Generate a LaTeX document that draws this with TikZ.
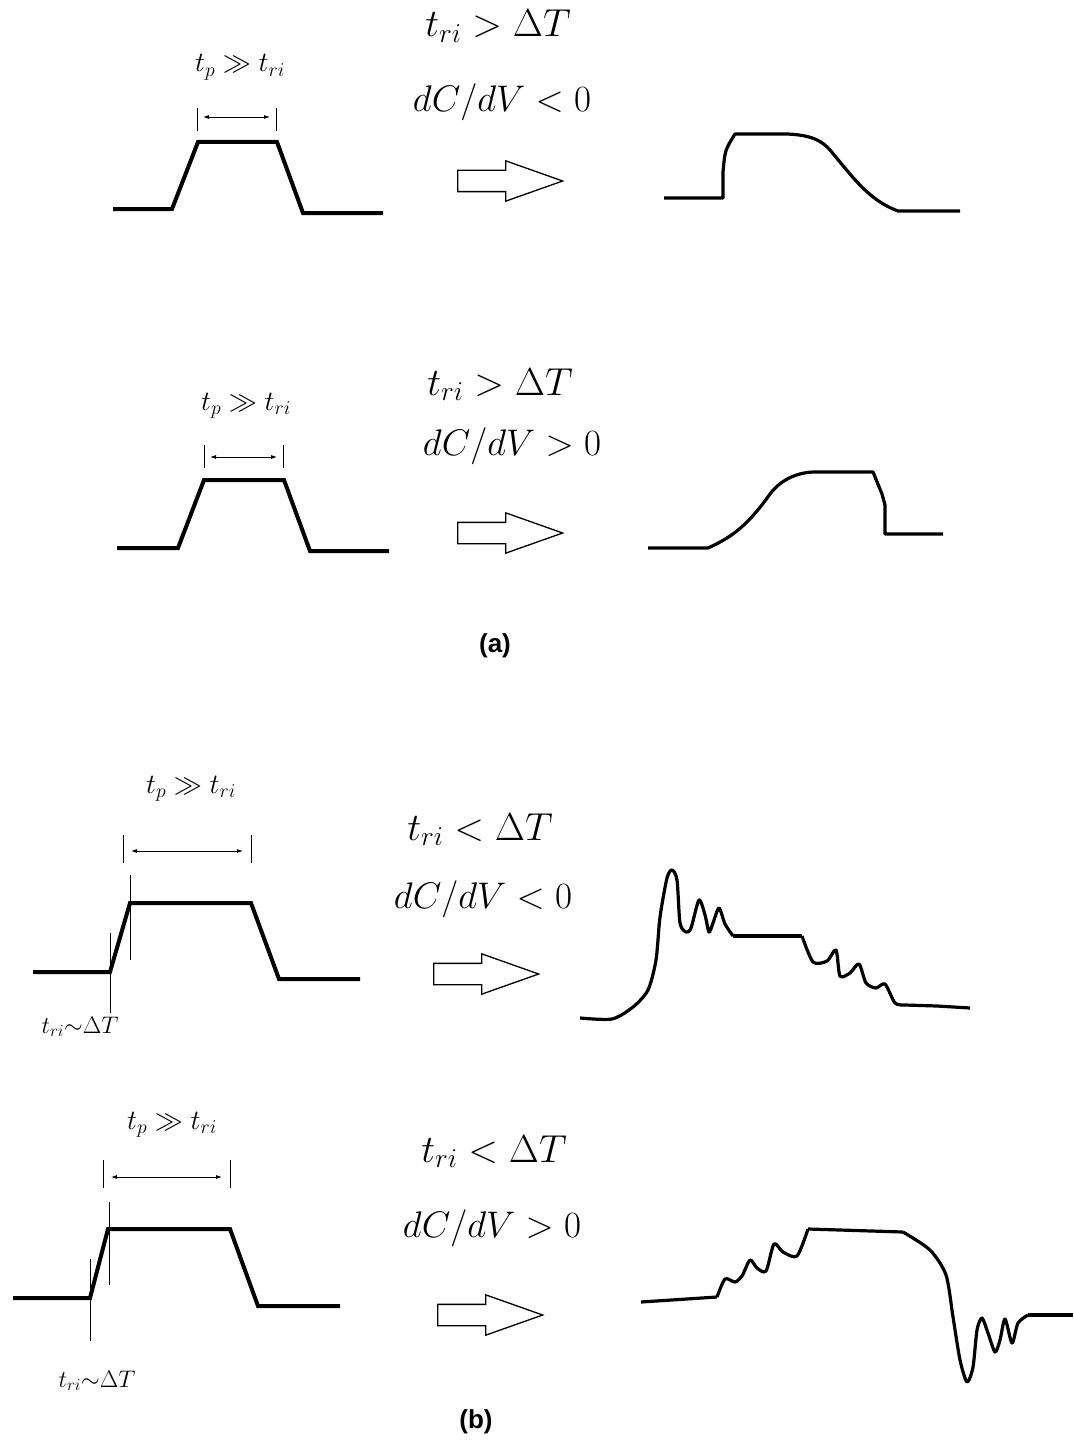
\RequirePackage{fix-cm}
\documentclass[tikz,border=0pt]{standalone}
\usepackage{fontspec}
\newfontfamily\capfont{Liberation Sans}
\usetikzlibrary{arrows.meta,positioning,shapes.arrows}

\begin{document}
\begin{tikzpicture}[
  x=1pt, y=-1pt,
  pulse/.style={line width=4pt, line join=miter},
  resp/.style={line width=3.2pt, line join=round},
  tick/.style={line width=0.8pt},
  span/.style={{Latex[length=6pt,width=4pt]}-{Latex[length=6pt,width=4pt]}, line width=0.8pt},
  cond/.style={font=\fontsize{39}{44}\selectfont, inner sep=0pt, anchor=base},
  slope/.style={font=\fontsize{37}{42}\selectfont, inner sep=0pt, anchor=base},
  width/.style={font=\fontsize{28}{32}\selectfont, inner sep=0pt, anchor=base},
  rise/.style={font=\fontsize{24}{28}\selectfont, inner sep=0pt, anchor=base},
  hollow/.style={single arrow, draw, line width=1.3pt, inner xsep=0pt, inner ysep=10pt,
    minimum height=105pt, single arrow head extend=9.5pt, single arrow tip angle=39,
    anchor=tail},
  caption/.style={font=\capfont\bfseries\fontsize{26}{30}\selectfont, inner sep=0pt}
]
\useasboundingbox (0,0) rectangle (1073,1450);

% ---- (a), first row
\node[width] (w1) at (240,72) {$t_p \gg t_{ri}$};
\node[cond] (c1) at (498,37) {$t_{ri} > \Delta T$};
\node[slope, below=75pt of c1.base, anchor=base, xshift=4pt] (d1) {$dC/dV < 0$};
\node[hollow] (h1) at (457,181) {};
\draw[pulse] (113,209) -- (172,209) -- (198,142) -- (277,142) -- (303,213) -- (383,213);
\coordinate (l1) at (197,117); \coordinate (r1) at (276,117);
\draw[tick] (197,108) -- (197,131);
\draw[tick] (276,108) -- (276,131);
\draw[span] ([xshift=6pt]l1) -- ([xshift=-6pt]r1);
\draw[resp] (664,198) -- (723,198) -- (723,172) .. controls (725,150) .. (735,134)
  -- (787,134) .. controls (812,135) and (822,141) .. (830,150)
  .. controls (852,176) and (868,200) .. (898,211) -- (960,211);

% ---- (a), second row
\node[width] (w2) at (246,410) {$t_p \gg t_{ri}$};
\node[cond] (c2) at (500,395) {$t_{ri} > \Delta T$};
\node[slope, below=60pt of c2.base, anchor=base, xshift=12pt] (d2) {$dC/dV > 0$};
\node[hollow] (h2) at (457,533) {};
\draw[pulse] (117,548) -- (178,548) -- (204,480) -- (284,480) -- (310,551) -- (389,551);
\coordinate (l2) at (204,457); \coordinate (r2) at (283,457);
\draw[tick] (204,445) -- (204,468);
\draw[tick] (283,445) -- (283,468);
\draw[span] ([xshift=6pt]l2) -- ([xshift=-6pt]r2);
\draw[resp] (648,548) -- (708,548) .. controls (735,536) and (750,522) .. (770,494)
  .. controls (782,478) and (800,472) .. (815,472) -- (873,472)
  -- (882,494) -- (885,505) -- (885,534) -- (943,534);

\node[caption] (capa) at (495,646) {(a)};

% ---- (b), first row
\node[width] (w3) at (191,793) {$t_p \gg t_{ri}$};
\node[cond] (c3) at (480,840) {$t_{ri} < \Delta T$};
\node[slope, below=68pt of c3.base, anchor=base, xshift=3pt] (d3) {$dC/dV < 0$};
\node[hollow] (h3) at (433,974) {};
\node[rise] (e3) at (80,1033) {$t_{ri}{\sim}\Delta T$};
\draw[pulse] (33,972) -- (110,972) -- (130,903) -- (251,903) -- (279,979) -- (360,979);
\coordinate (l3) at (123,851); \coordinate (r3) at (251,851);
\draw[tick] (123,835) -- (123,863);
\draw[tick] (251,835) -- (251,863);
\draw[tick] (130,875) -- (130,960);
\draw[tick] (110,933) -- (110,1013);
\draw[span] ([xshift=8pt]l3) -- ([xshift=-8pt]r3);
\draw[resp] plot[smooth, tension=0.45] coordinates {
  (580,1018) (612,1019) (633,1007) (648,990) (656,960) (660,917) (667,878) (672,870)
  (677,880) (680,923) (686,932) (691,928) (699,900) (705,915) (709,932) (713,923)
  (719,908) (725,924) (733,936)};
\draw[resp] (733,936) -- (802,936);
\draw[resp] plot[smooth, tension=0.45] coordinates {
  (802,936) (813,962) (827,961) (836,950) (840,976) (850,973) (859,964) (866,983)
  (876,988) (885,984) (895,1003) (905,1005)};
\draw[resp] (905,1005) -- (937,1006) -- (970,1008);

% ---- (b), second row
\node[width] (w4) at (172,1129) {$t_p \gg t_{ri}$};
\node[cond] (c4) at (494,1162) {$t_{ri} < \Delta T$};
\node[slope, below=75pt of c4.base, anchor=base, xshift=-2pt] (d4) {$dC/dV > 0$};
\node[hollow] (h4) at (437,1315) {};
\node[rise] (e4) at (97,1387) {$t_{ri}{\sim}\Delta T$};
\draw[pulse] (13,1298) -- (90,1298) -- (108,1229) -- (230,1229) -- (258,1306) -- (340,1306);
\coordinate (l4) at (103,1177); \coordinate (r4) at (230,1177);
\draw[tick] (103,1160) -- (103,1188);
\draw[tick] (230,1160) -- (230,1188);
\draw[tick] (109,1202) -- (109,1285);
\draw[tick] (90,1259) -- (90,1341);
\draw[span] ([xshift=8pt]l4) -- ([xshift=-8pt]r4);
\draw[resp] (641,1302) -- (717,1297);
\draw[resp] plot[smooth, tension=0.45] coordinates {
  (717,1297) (725,1279) (735,1282) (742,1276) (750,1260) (757,1268) (766,1271)
  (774,1244) (783,1252) (797,1256) (808,1229)};
\draw[resp] (808,1229) -- (903,1232);
\draw[resp] plot[smooth, tension=0.45] coordinates {
  (903,1232) (930,1250) (946,1275) (953,1317) (960,1360) (967,1382) (973,1367)
  (977,1330) (982,1318) (988,1333) (995,1352) (1000,1340) (1005,1319) (1012,1343)
  (1018,1323) (1028,1315)};
\draw[resp] (1028,1315) -- (1073,1315);

\node[caption] (capb) at (476,1422) {(b)};
\end{tikzpicture}
\end{document}
